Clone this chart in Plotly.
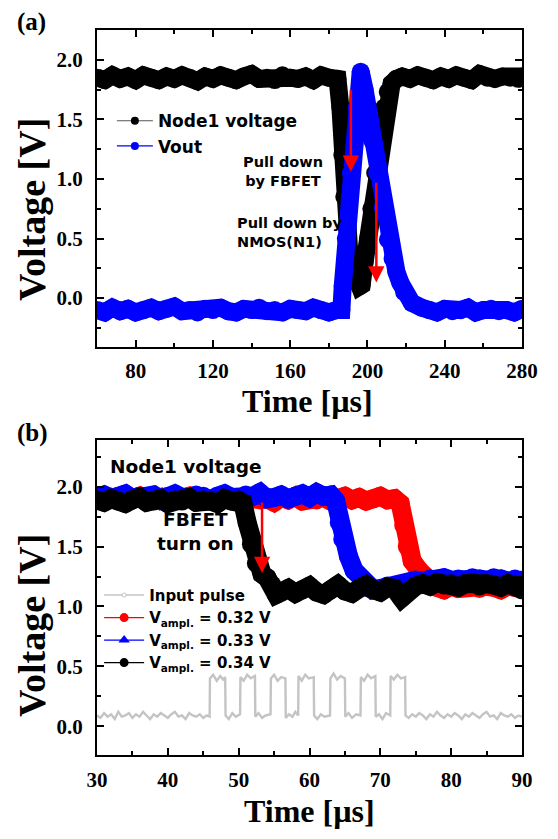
import plotly.graph_objects as go

# ---------------- Panel (a) data ----------------
a_t_node1 = [60, 64, 68, 72, 76, 80, 84, 88, 92, 96, 100, 104, 108, 112, 116, 120, 124, 128, 132, 136,
             140, 144, 148, 152, 156, 160, 164, 168, 172, 176, 180, 184.5,
             186, 187, 188, 189, 190.5, 192.5, 194.5, 196, 197, 198.5, 200.3, 202, 204, 206, 208.7, 210.5,
             212.5, 215, 218, 222, 226, 230, 234, 238, 242, 246, 250, 254, 258, 262, 266, 270, 274, 278, 280]
a_v_node1 = [1.85, 1.83, 1.87, 1.84, 1.86, 1.83, 1.87, 1.85, 1.83, 1.86, 1.84, 1.87, 1.85, 1.82, 1.86, 1.84,
             1.87, 1.85, 1.83, 1.86, 1.88, 1.84, 1.85, 1.83, 1.87, 1.85, 1.84, 1.86, 1.83, 1.87, 1.85, 1.84,
             1.60, 1.20, 0.85, 0.60, 0.40, 0.25, 0.15, 0.10, 0.11, 0.30, 0.50, 0.75, 1.05, 1.32, 1.60, 1.73,
             1.80, 1.84, 1.86, 1.84, 1.87, 1.85, 1.83, 1.86, 1.84, 1.87, 1.85, 1.83, 1.88, 1.85, 1.84, 1.86,
             1.85, 1.84, 1.86]

a_t_vout = [60, 64, 68, 72, 76, 80, 84, 88, 92, 96, 100, 104, 108, 112, 116, 120, 124, 128, 132, 136,
            140, 144, 148, 152, 156, 160, 164, 168, 172, 176, 180, 184,
            186.5, 187.2, 188.8, 191.4, 194.5, 196.5, 198.5, 200, 202.5, 205, 207.8, 210.6, 213, 215, 217,
            219, 223, 228,
            232, 236, 240, 244, 248, 252, 256, 260, 264, 268, 272, 276, 280]
a_v_vout = [-0.10, -0.12, -0.08, -0.11, -0.09, -0.12, -0.10, -0.08, -0.11, -0.09, -0.07, -0.11, -0.10, -0.12,
            -0.09, -0.10, -0.08, -0.11, -0.12, -0.09, -0.10, -0.08, -0.11, -0.10, -0.12, -0.09, -0.10, -0.11,
            -0.08, -0.10, -0.12, -0.10,
            -0.10, 0.10, 0.50, 1.05, 1.60, 1.90, 1.75, 1.60, 1.32, 1.05, 0.76, 0.49, 0.33, 0.22, 0.13,
            0.05, -0.04, -0.08,
            -0.10, -0.12, -0.09, -0.11, -0.10, -0.08, -0.12, -0.10, -0.09, -0.11, -0.10, -0.12, -0.09]

a_xticks = [80, 120, 160, 200, 240, 280]
a_yticks = [0.0, 0.5, 1.0, 1.5, 2.0]

# ---------------- Panel (b) data ----------------
b_t_032 = [30, 31, 32, 33, 34, 35, 36, 37, 38, 39, 40, 41, 42, 43, 44, 45, 46, 47, 48, 49, 50, 51, 52,
           53, 54, 55, 56, 57, 58, 59, 60, 61, 62, 63, 64, 65, 66, 67, 68, 69, 70, 71, 72,
           72.8, 73.3, 73.8, 74.5, 75.5, 76.5, 77.5,
           78, 79, 80, 81, 82, 83, 84, 85, 86, 87, 88, 89, 90]
b_v_032 = [1.90, 1.88, 1.91, 1.89, 1.87, 1.90, 1.92, 1.88, 1.89, 1.91, 1.87, 1.90, 1.89, 1.92, 1.88, 1.90,
           1.89, 1.87, 1.91, 1.89, 1.90, 1.88, 1.91, 1.89, 1.90, 1.87, 1.91, 1.89, 1.92, 1.88, 1.90, 1.89,
           1.91, 1.88, 1.90, 1.92, 1.89, 1.91, 1.88, 1.90, 1.92, 1.89, 1.90,
           1.86, 1.68, 1.50, 1.38, 1.30, 1.22, 1.17,
           1.16, 1.14, 1.17, 1.15, 1.16, 1.18, 1.15, 1.17, 1.16, 1.14, 1.17, 1.16, 1.15]

b_t_033 = [30, 31, 32, 33, 34, 35, 36, 37, 38, 39, 40, 41, 42, 43, 44, 45, 46, 47, 48, 49, 50, 51, 52,
           53, 54, 55, 56, 57, 58, 59, 60, 61, 62, 63,
           63.7, 64.2, 64.7, 65.5, 66.3, 67.5, 68.5,
           69, 70, 71, 72, 73, 74, 75, 76, 77, 78, 79, 80, 81, 82, 83, 84, 85, 86, 87, 88, 89, 90]
b_v_033 = [1.91, 1.93, 1.90, 1.92, 1.94, 1.90, 1.92, 1.91, 1.93, 1.89, 1.92, 1.94, 1.91, 1.90, 1.93, 1.92,
           1.89, 1.92, 1.94, 1.91, 1.90, 1.93, 1.92, 1.95, 1.90, 1.91, 1.93, 1.90, 1.92, 1.94, 1.91, 1.95,
           1.92, 1.93,
           1.88, 1.70, 1.56, 1.42, 1.30, 1.20, 1.15,
           1.14, 1.15, 1.17, 1.15, 1.18, 1.20, 1.22, 1.21, 1.23, 1.22, 1.24, 1.22, 1.23, 1.21, 1.24, 1.23,
           1.22, 1.24, 1.23, 1.21, 1.23, 1.22]

b_t_034 = [30, 31, 32, 33, 34, 35, 36, 37, 38, 39, 40, 41, 42, 43, 44, 45, 46, 47, 48, 49, 50,
           50.6, 51.2, 51.8, 52.5, 53.3, 54.0, 54.7, 55.3,
           56, 57, 58, 59, 60, 61, 62, 63, 64, 65, 66, 67, 68, 69, 70, 71, 72, 73, 74, 75, 76, 77, 78,
           79, 80, 81, 82, 83, 84, 85, 86, 87, 88, 89, 90]
b_v_034 = [1.89, 1.87, 1.90, 1.88, 1.86, 1.89, 1.91, 1.87, 1.88, 1.90, 1.86, 1.89, 1.88, 1.91, 1.87, 1.89,
           1.88, 1.86, 1.90, 1.88, 1.89,
           1.86, 1.70, 1.52, 1.36, 1.27, 1.24, 1.18, 1.10,
           1.12, 1.15, 1.11, 1.14, 1.17, 1.12, 1.10, 1.14, 1.18, 1.13, 1.11, 1.15, 1.18, 1.14, 1.12, 1.16,
           1.15, 1.07, 1.13, 1.17, 1.19, 1.17, 1.20, 1.18, 1.19, 1.16, 1.19, 1.20, 1.17, 1.19, 1.18, 1.16,
           1.19, 1.18, 1.14]

b_t_input = [30.0, 30.5, 31.0, 31.5, 32.0, 32.5, 33.0, 33.5, 34.0, 34.5, 35.0, 35.5, 36.0, 36.5, 37.0,
             37.5, 38.0, 38.5, 39.0, 39.5, 40.0, 40.5, 41.0, 41.5, 42.0, 42.5, 43.0, 43.5, 44.0, 44.5,
             45.0, 45.5, 45.9,
             45.95, 46.4, 46.9, 47.4, 47.8, 48.1, 48.15, 48.6, 49.1, 49.6, 50.2,
             50.25, 50.7, 51.2, 51.7, 52.3, 52.35, 52.8, 53.3, 53.8, 54.5,
             54.55, 55.0, 55.5, 56.0, 56.6, 56.65, 57.1, 57.6, 58.0, 58.4,
             58.45, 58.9, 59.4, 59.9, 60.6, 60.65, 61.1, 61.6, 62.1, 62.9,
             62.95, 63.4, 63.9, 64.4, 65.0, 65.05, 65.5, 66.0, 66.6, 67.2,
             67.25, 67.7, 68.2, 68.7, 69.3, 69.35, 69.8, 70.3, 70.8, 71.4,
             71.45, 71.9, 72.4, 72.9, 73.5, 73.55,
             74.0, 74.5, 75.0, 75.5, 76.0, 76.5, 77.0, 77.5, 78.0, 78.5, 79.0, 79.5, 80.0, 80.5, 81.0,
             81.5, 82.0, 82.5, 83.0, 83.5, 84.0, 84.5, 85.0, 85.5, 86.0, 86.5, 87.0, 87.5, 88.0, 88.5,
             89.0, 89.5, 90.0]
b_v_input = [0.09, 0.07, 0.11, 0.08, 0.10, 0.06, 0.12, 0.08, 0.09, 0.11, 0.07, 0.10, 0.08, 0.12, 0.09,
             0.06, 0.10, 0.08, 0.11, 0.09, 0.07, 0.10, 0.12, 0.08, 0.09, 0.06, 0.11, 0.09, 0.08, 0.10,
             0.07, 0.09, 0.08,
             0.40, 0.43, 0.38, 0.42, 0.39, 0.41, 0.09, 0.06, 0.11, 0.08, 0.10,
             0.41, 0.38, 0.43, 0.40, 0.42, 0.08, 0.11, 0.07, 0.09, 0.10,
             0.40, 0.43, 0.38, 0.41, 0.40, 0.07, 0.10, 0.08, 0.12, 0.09,
             0.42, 0.38, 0.43, 0.40, 0.41, 0.09, 0.06, 0.10, 0.08, 0.09,
             0.40, 0.44, 0.39, 0.42, 0.40, 0.08, 0.11, 0.07, 0.10, 0.09,
             0.41, 0.38, 0.43, 0.40, 0.42, 0.08, 0.10, 0.06, 0.11, 0.09,
             0.42, 0.39, 0.43, 0.40, 0.41, 0.09,
             0.07, 0.10, 0.08, 0.11, 0.09, 0.06, 0.10, 0.08, 0.12, 0.09, 0.07, 0.10, 0.08, 0.11, 0.09,
             0.06, 0.10, 0.08, 0.11, 0.09, 0.07, 0.10, 0.12, 0.08, 0.09, 0.06, 0.11, 0.09, 0.08, 0.10,
             0.07, 0.09, 0.08]

b_xticks = [30, 40, 50, 60, 70, 80, 90]
b_yticks = [0.0, 0.5, 1.0, 1.5, 2.0]

# ---------------- styling ----------------
BLACK = "#000000"
BLUE = "#0000ff"
RED = "#ff0000"
GRAY = "#c4c4c4"
SERIF = "Liberation Serif"
SANS = "DejaVu Sans"
BAND_A = 18
BAND_B = 19

fig = go.Figure()


def band(x, y, color, width, xa, ya, symbol="circle"):
    return go.Scatter(x=x, y=y, mode="lines+markers", line=dict(color=color, width=width),
                      marker=dict(color=color, size=width, symbol=symbol, line=dict(width=0)),
                      showlegend=False, xaxis=xa, yaxis=ya, hoverinfo="skip")


# panel (a) traces
fig.add_trace(band(a_t_node1, a_v_node1, BLACK, BAND_A, "x", "y"))
fig.add_trace(band(a_t_vout, a_v_vout, BLUE, BAND_A, "x", "y"))
# legend entries (a)
fig.add_trace(go.Scatter(x=[None], y=[None], mode="lines+markers", name="Node1 voltage",
                         line=dict(color="#555555", width=1.2), marker=dict(color=BLACK, size=8),
                         xaxis="x", yaxis="y", legend="legend"))
fig.add_trace(go.Scatter(x=[None], y=[None], mode="lines+markers", name="Vout",
                         line=dict(color=BLUE, width=1.2), marker=dict(color=BLUE, size=8),
                         xaxis="x", yaxis="y", legend="legend"))

# panel (b) traces
fig.add_trace(go.Scatter(x=b_t_input, y=b_v_input, mode="lines", line=dict(color=GRAY, width=2.4),
                         showlegend=False, xaxis="x2", yaxis="y2", hoverinfo="skip"))
fig.add_trace(band(b_t_032, b_v_032, RED, BAND_B, "x2", "y2"))
fig.add_trace(band(b_t_033, b_v_033, BLUE, BAND_B, "x2", "y2"))
fig.add_trace(band(b_t_034, b_v_034, BLACK, BAND_B, "x2", "y2"))
# legend entries (b)
fig.add_trace(go.Scatter(x=[None], y=[None], mode="lines+markers", name="Input pulse",
                         line=dict(color=GRAY, width=1.5),
                         marker=dict(color="white", size=4, line=dict(color=GRAY, width=1)),
                         xaxis="x2", yaxis="y2", legend="legend2"))
fig.add_trace(go.Scatter(x=[None], y=[None], mode="lines+markers", name="V<sub>ampl.</sub> = 0.32 V",
                         line=dict(color=RED, width=1.2), marker=dict(color=RED, size=9, symbol="circle"),
                         xaxis="x2", yaxis="y2", legend="legend2"))
fig.add_trace(go.Scatter(x=[None], y=[None], mode="lines+markers", name="V<sub>ampl.</sub> = 0.33 V",
                         line=dict(color=BLUE, width=1.2), marker=dict(color=BLUE, size=10, symbol="triangle-up"),
                         xaxis="x2", yaxis="y2", legend="legend2"))
fig.add_trace(go.Scatter(x=[None], y=[None], mode="lines+markers", name="V<sub>ampl.</sub> = 0.34 V",
                         line=dict(color=BLACK, width=1.2), marker=dict(color=BLACK, size=9, symbol="circle"),
                         xaxis="x2", yaxis="y2", legend="legend2"))

tickfont = dict(family=SERIF, size=21, color=BLACK, weight="bold")


def axis_common():
    return dict(showline=True, linecolor=BLACK, linewidth=2, mirror="ticks", ticks="inside",
                ticklen=7, tickwidth=2, tickcolor=BLACK, showgrid=False, zeroline=False,
                tickfont=tickfont)


# The page body adds an 8 px offset, so the figure is sized and margined to compensate.
fig.update_layout(
    width=542, height=823,
    paper_bgcolor="white", plot_bgcolor="white",
    margin=dict(l=89, r=21, t=22, b=76),
    xaxis=dict(domain=[0, 1], anchor="y", range=[60, 280], tickvals=a_xticks,
               minor=dict(dtick=20, tick0=60, ticks="inside", ticklen=4, tickwidth=2, tickcolor=BLACK),
               ticklabelstandoff=4, **axis_common()),
    yaxis=dict(domain=[0.5628, 1.0], anchor="x", range=[-0.41, 2.25], tickvals=a_yticks,
               ticktext=["0.0", "0.5", "1.0", "1.5", "2.0"],
               minor=dict(dtick=0.25, tick0=0, ticks="inside", ticklen=4, tickwidth=2, tickcolor=BLACK),
               ticklabelstandoff=8, **axis_common()),
    xaxis2=dict(domain=[0, 1], anchor="y2", range=[30, 90], tickvals=b_xticks,
                minor=dict(dtick=5, tick0=30, ticks="inside", ticklen=4, tickwidth=2, tickcolor=BLACK),
                ticklabelstandoff=5, **axis_common()),
    yaxis2=dict(domain=[0, 0.4345], anchor="x2", range=[-0.24, 2.39], tickvals=b_yticks,
                ticktext=["0.0", "0.5", "1.0", "1.5", "2.0"],
                minor=dict(dtick=0.25, tick0=0, ticks="inside", ticklen=4, tickwidth=2, tickcolor=BLACK),
                ticklabelstandoff=8, **axis_common()),
    legend=dict(x=0.035, y=0.899, xanchor="left", yanchor="top", bgcolor="rgba(0,0,0,0)",
                font=dict(family=SANS, size=17, color=BLACK, weight="bold"), itemwidth=36,
                tracegroupgap=0),
    legend2=dict(x=0.005, y=0.243, xanchor="left", yanchor="top", bgcolor="rgba(0,0,0,0)",
                 font=dict(family=SANS, size=15, color=BLACK, weight="bold"), itemwidth=40,
                 tracegroupgap=0),
    showlegend=True,
)

ann = []
bold_sans = lambda s: dict(family=SANS, size=s, color=BLACK, weight="bold")
bold_serif = lambda s: dict(family=SERIF, size=s, color=BLACK, weight="bold")

# panel labels
ann.append(dict(text="(a)", xref="paper", yref="paper", x=-0.153, y=1.011, showarrow=False,
                font=bold_serif(25), xanchor="center", yanchor="middle"))
ann.append(dict(text="(b)", xref="paper", yref="paper", x=-0.151, y=0.444, showarrow=False,
                font=bold_serif(25), xanchor="center", yanchor="middle"))
# axis titles
ann.append(dict(text="Voltage [V]", xref="paper", yref="paper", x=-0.153, y=(755 - 209) / 725,
                textangle=-90, showarrow=False, font=bold_serif(38), xanchor="center", yanchor="middle"))
ann.append(dict(text="Voltage [V]", xref="paper", yref="paper", x=-0.153, y=(755 - 625) / 725,
                textangle=-90, showarrow=False, font=bold_serif(38), xanchor="center", yanchor="middle"))
ann.append(dict(text="Time [µs]", xref="paper", yref="paper", x=(311 - 97) / 432, y=(755 - 401) / 725,
                showarrow=False, font=bold_serif(32), xanchor="center", yanchor="middle"))
ann.append(dict(text="Time [µs]", xref="paper", yref="paper", x=(313 - 97) / 432, y=(755 - 811) / 725,
                showarrow=False, font=bold_serif(32), xanchor="center", yanchor="middle"))

# panel (a) texts
ann.append(dict(text="Pull down<br>by FBFET", xref="x", yref="y", x=156.5, y=1.06, showarrow=False,
                font=bold_sans(14.5), align="center", xanchor="center", yanchor="middle"))
ann.append(dict(text="Pull down by<br>NMOS(N1)", xref="x", yref="y", x=131.3, y=0.55, showarrow=False,
                font=bold_sans(14.5), align="left", xanchor="left", yanchor="middle"))
# panel (a) arrows
ann.append(dict(text="", xref="x", yref="y", axref="x", ayref="y", x=191.4, y=1.06, ax=191.4, ay=1.76,
                showarrow=True, arrowcolor=RED, arrowwidth=2.5, arrowhead=2, arrowsize=1.3))
ann.append(dict(text="", xref="x", yref="y", axref="x", ayref="y", x=204.6, y=0.13, ax=204.6, ay=0.98,
                showarrow=True, arrowcolor=RED, arrowwidth=2.5, arrowhead=2, arrowsize=1.3))

# panel (b) texts
ann.append(dict(text="Node1 voltage", xref="x2", yref="y2", x=42.5, y=2.165, showarrow=False,
                font=bold_sans(18.5), xanchor="center", yanchor="middle"))
ann.append(dict(text="FBFET<br>turn on", xref="x2", yref="y2", x=43.9, y=1.625, showarrow=False,
                font=bold_sans(18.5), align="center", xanchor="center", yanchor="middle"))
ann.append(dict(text="", xref="x2", yref="y2", axref="x2", ayref="y2", x=53.3, y=1.28, ax=53.3, ay=1.88,
                showarrow=True, arrowcolor=RED, arrowwidth=2.5, arrowhead=2, arrowsize=1.3))

fig.update_layout(annotations=ann)

fig.write_html("out.html")
